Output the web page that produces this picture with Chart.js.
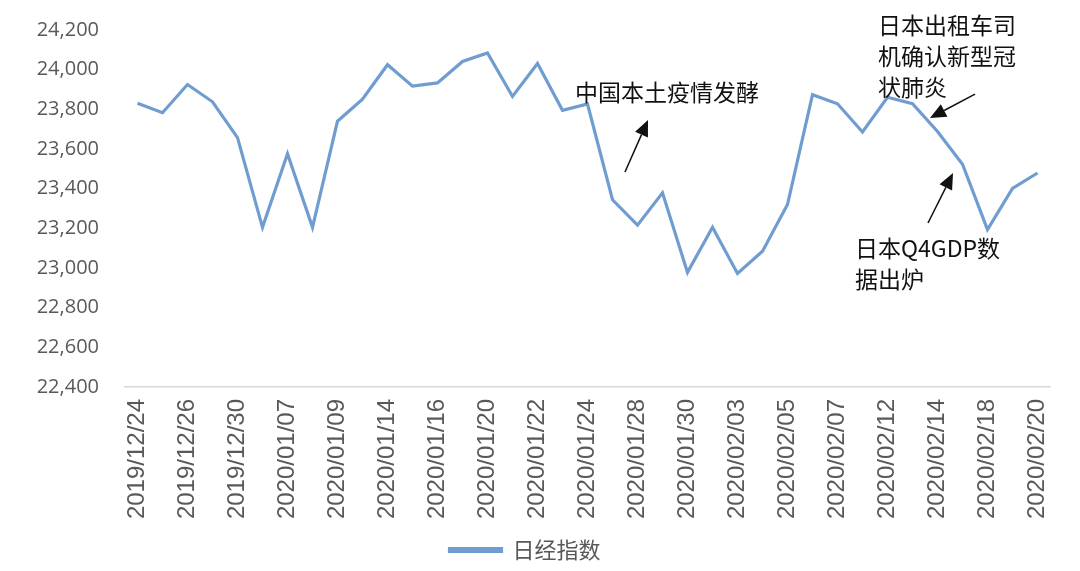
<!DOCTYPE html>
<html>
<head>
<meta charset="utf-8">
<script src="https://cdn.jsdelivr.net/npm/chart.js@4"></script>
<style>
html,body{margin:0;padding:0;background:#fff;}
#wrap{width:1080px;height:571px;}
</style>
</head>
<body>
<div id="wrap"><canvas id="c"></canvas></div>
<script>
const categories = ["2019/12/24","2019/12/25","2019/12/26","2019/12/27","2019/12/30","2020/01/06","2020/01/07","2020/01/08","2020/01/09","2020/01/10","2020/01/14","2020/01/15","2020/01/16","2020/01/17","2020/01/20","2020/01/21","2020/01/22","2020/01/23","2020/01/24","2020/01/27","2020/01/28","2020/01/29","2020/01/30","2020/01/31","2020/02/03","2020/02/04","2020/02/05","2020/02/06","2020/02/07","2020/02/10","2020/02/12","2020/02/13","2020/02/14","2020/02/17","2020/02/18","2020/02/19","2020/02/20"];
const nikkei = [23831,23783,23925,23838,23657,23205,23576,23205,23740,23851,24025,23917,23933,24041,24084,23865,24031,23795,23827,23344,23216,23379,22978,23205,22972,23085,23320,23874,23828,23686,23861,23828,23688,23523,23194,23401,23479];
const seriesName = "日经指数";
const yMin = 22400, yMax = 24200, yStep = 200;

// annotations: text anchored at (category index, value), arrows from tail to tip
const notes = [
  {lines:["中国本土疫情发酵"], x:17.5, y:23887, tail:[19.5,23484], tip:[20.42,23746]},
  {lines:["日本出租车司","机确认新型冠","状肺炎"], x:29.62, y:24225, tail:[33.5,23877], tip:[31.7,23756]},
  {lines:["日本Q4GDP数","据出炉"], x:28.7, y:23101, tail:[31.62,23227], tip:[32.62,23479]}
];

const lineColor = '#6f9dd0';
const cjk = '"Noto Sans CJK SC","Noto Sans",sans-serif';

const notePlugin = {
  id:'notes',
  afterDraw(chart){
    const {ctx, scales:{x, y}} = chart;
    ctx.save();
    ctx.fillStyle = '#111';
    ctx.strokeStyle = '#111';
    ctx.font = '23px ' + cjk;
    ctx.textBaseline = 'middle';
    ctx.textAlign = 'left';
    notes.forEach(n=>{
      const px = x.getPixelForValue(n.x), py = y.getPixelForValue(n.y);
      n.lines.forEach((t,i)=>ctx.fillText(t, px, py + i*31));
      const x1 = x.getPixelForValue(n.tail[0]), y1 = y.getPixelForValue(n.tail[1]);
      const x2 = x.getPixelForValue(n.tip[0]), y2 = y.getPixelForValue(n.tip[1]);
      const ang = Math.atan2(y2-y1, x2-x1);
      const L = 16, W = 7;
      const bx = x2 - L*Math.cos(ang), by = y2 - L*Math.sin(ang);
      ctx.lineWidth = 1.5;
      ctx.beginPath(); ctx.moveTo(x1,y1); ctx.lineTo(bx,by); ctx.stroke();
      ctx.beginPath();
      ctx.moveTo(x2,y2);
      ctx.lineTo(bx + W*Math.sin(ang), by - W*Math.cos(ang));
      ctx.lineTo(bx - W*Math.sin(ang), by + W*Math.cos(ang));
      ctx.closePath(); ctx.fill();
    });
    ctx.restore();
  }
};

new Chart(document.getElementById('c'), {
  type:'line',
  data:{
    labels:categories,
    datasets:[{
      label:seriesName,
      data:nikkei,
      borderColor:lineColor,
      backgroundColor:lineColor,
      borderWidth:3.2,
      pointRadius:0,
      tension:0,
      fill:false
    }]
  },
  options:{
    responsive:true,
    maintainAspectRatio:false,
    animation:false,
    layout:{padding:{top:30,right:30,left:0,bottom:0}},
    plugins:{
      legend:{
        position:'bottom',
        labels:{
          boxWidth:52, boxHeight:3,
          color:'#595959',
          font:{size:22, family:cjk},
          padding:6
        }
      },
      tooltip:{enabled:false}
    },
    scales:{
      x:{
        offset:true,
        grid:{display:false},
        border:{display:true, color:'#d9d9d9', width:1.5},
        afterFit(s){ s.height = 146; },
        ticks:{
          autoSkip:false,
          maxRotation:90, minRotation:90,
          padding:4,
          color:'#595959',
          font:{size:24, family:'"Liberation Sans",Arial,sans-serif'},
          callback:function(v,i){ return i%2===0 ? categories[i] : ''; }
        }
      },
      y:{
        min:yMin, max:yMax,
        grid:{display:false, drawTicks:false},
        border:{display:false},
        afterFit(s){ s.width = 125; s.paddingTop = 0; s.paddingBottom = 0; },
        ticks:{
          stepSize:yStep,
          padding:26,
          color:'#595959',
          font:{size:20, family:'"Open Sans","Noto Sans",sans-serif'},
          callback:v=>v.toLocaleString('en-US')
        }
      }
    }
  },
  plugins:[notePlugin]
});
</script>
</body>
</html>
